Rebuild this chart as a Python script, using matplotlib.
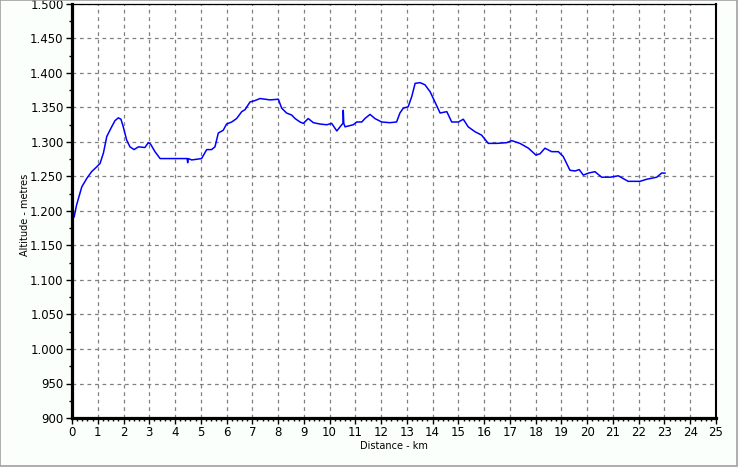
import numpy as np
import matplotlib
matplotlib.use('Agg')
import matplotlib.pyplot as plt
from matplotlib.ticker import MultipleLocator, FuncFormatter
from matplotlib.patches import Rectangle

# track profile
distance_km = [0.0, 0.03, 0.08, 0.18, 0.38, 0.57, 0.76, 0.96, 1.09, 1.22, 1.35, 1.54, 1.67, 1.80, 1.90,
               1.99, 2.12, 2.25, 2.41, 2.58, 2.83, 2.96, 3.05, 3.22, 3.42, 3.80, 4.32, 4.47, 4.49,
               4.51, 4.65, 5.03, 5.23, 5.42, 5.55, 5.68, 5.87, 6.00, 6.20, 6.39, 6.59, 6.72, 6.91,
               7.10, 7.30, 7.69, 8.01, 8.14, 8.33, 8.53, 8.66, 8.85, 8.98, 9.17, 9.37, 9.63, 9.89,
               10.08, 10.28, 10.47, 10.52, 10.53, 10.55, 10.60, 10.92, 11.05, 11.25, 11.37, 11.57,
               11.76, 12.02, 12.34, 12.60, 12.73, 12.86, 13.05, 13.19, 13.32, 13.51, 13.70, 13.90,
               14.09, 14.29, 14.55, 14.74, 15.00, 15.19, 15.38, 15.64, 15.90, 16.16, 16.49, 16.87,
               17.07, 17.39, 17.72, 18.01, 18.17, 18.36, 18.62, 18.88, 19.07, 19.33, 19.53, 19.69,
               19.85, 20.05, 20.30, 20.56, 20.89, 21.21, 21.40, 21.59, 22.05, 22.31, 22.70, 22.89,
               23.02]
altitude_m = [1199, 1200, 1191, 1209, 1235, 1247, 1257, 1264, 1269, 1284, 1308, 1322, 1331, 1335, 1333,
              1322, 1303, 1293, 1289, 1293, 1292, 1299, 1297, 1286, 1276, 1276, 1276, 1276, 1270,
              1276, 1274, 1276, 1289, 1289, 1293, 1313, 1317, 1326, 1329, 1334, 1344, 1347, 1358,
              1360, 1363, 1361, 1362, 1349, 1342, 1339, 1334, 1329, 1327, 1334, 1328, 1326, 1325,
              1327, 1316, 1325, 1327, 1346, 1327, 1322, 1325, 1329, 1329, 1334, 1340,
              1334, 1329, 1328, 1329, 1342, 1349, 1351, 1366, 1385, 1386, 1383, 1373,
              1358, 1342, 1344, 1329, 1329, 1333, 1322, 1315, 1310, 1298, 1298, 1299,
              1302, 1298, 1291, 1281, 1283, 1291, 1286, 1286, 1279, 1259, 1258, 1260,
              1252, 1255, 1257, 1249, 1249, 1251, 1247, 1243, 1243, 1246, 1249, 1255,
              1255]

fig = plt.figure(figsize=(7.40, 4.67), dpi=100, facecolor='#fbfffb')
ax = fig.add_axes([72/740, 1-418/467, 644/740, 414/467])
ax.set_facecolor('white')

ax.plot(distance_km, altitude_m, color='#0000ff', lw=1.1)

ax.set_xlim(0, 25)
ax.set_ylim(900, 1500)
ax.xaxis.set_major_locator(MultipleLocator(1))
ax.xaxis.set_minor_locator(MultipleLocator(0.2))
ax.yaxis.set_major_locator(MultipleLocator(50))
ax.yaxis.set_minor_locator(MultipleLocator(25))
ax.yaxis.set_major_formatter(FuncFormatter(lambda v, p: '{:,.0f}'.format(v).replace(',', '.')))

ax.grid(True, which='major', color='#808080', linestyle=(0, (3, 3)), lw=0.9)
ax.tick_params(which='major', length=4, width=1, labelsize=8.5, color='black')
ax.tick_params(which='minor', length=2.5, width=1, color='black')
ax.tick_params(axis='x', pad=2)
ax.tick_params(axis='y', pad=2)

ax.spines['left'].set_linewidth(2.3)
ax.spines['bottom'].set_linewidth(2.3)
ax.spines['top'].set_linewidth(0.9)
ax.spines['right'].set_linewidth(1.5)

ax.set_xlabel('Distance - km', fontsize=7, labelpad=1)
ax.set_ylabel('Altitude - metres', fontsize=7)
ax.yaxis.set_label_coords(-0.065, 0.49)

# thin grey window edge at right and bottom
fig.patches.append(Rectangle((0, 0.002), 0.996, 0.998, transform=fig.transFigure,
                             fill=False, edgecolor='#a0a0a0', lw=1.2))

fig.savefig('out.png', dpi=100, facecolor=fig.get_facecolor())
